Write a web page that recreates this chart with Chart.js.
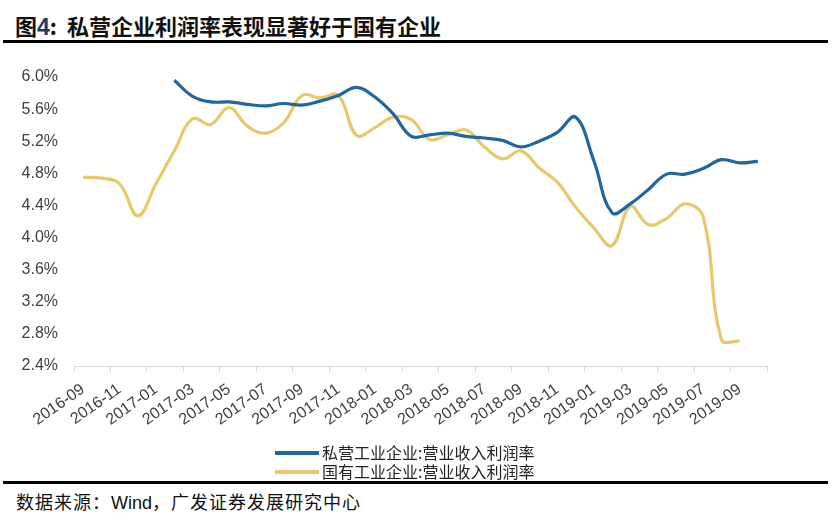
<!DOCTYPE html>
<html>
<head>
<meta charset="utf-8">
<script src="https://cdn.jsdelivr.net/npm/chart.js@4.4.0/dist/chart.umd.min.js"></script>
<style>
  body { margin: 0; background: #fff; width: 834px; height: 523px; position: relative; overflow: hidden; }
  #title { position: absolute; left: 15px; top: 10px; font: bold 22px "Noto Sans CJK SC", sans-serif; color: #111; white-space: nowrap; line-height: 30px; }
  #title .num { color: #1f3864; font-family: "Liberation Sans", Arial, sans-serif; font-size: 23px; }
  .rule { position: absolute; left: 3px; width: 825px; height: 3px; background: #000; }
  #source { position: absolute; left: 16px; top: 488px; font: 18px "Noto Sans CJK SC", sans-serif; color: #111; white-space: nowrap; line-height: 26px; letter-spacing: 1px; }
  #source .w { font-family: "Liberation Sans", Arial, sans-serif; letter-spacing: 0; }
  #wrap { position: absolute; left: 0; top: 50px; width: 834px; height: 430px; }
</style>
</head>
<body>
<div id="title">图<span class="num">4</span>:&nbsp; 私营企业利润率表现显著好于国有企业</div>
<div class="rule" style="top:40px"></div>
<div id="wrap"><canvas id="graf"></canvas></div>
<div class="rule" style="top:481px"></div>
<div id="source">数据来源：<span class="w">Wind</span>，广发证券发展研究中心</div>
<script>
// meses (categorias)
const meses = ['2016-09','2016-10','2016-11','2016-12','2017-01','2017-02','2017-03','2017-04','2017-05','2017-06',
    '2017-07','2017-08','2017-09','2017-10','2017-11','2017-12','2018-01','2018-02','2018-03','2018-04',
    '2018-05','2018-06','2018-07','2018-08','2018-09','2018-10','2018-11','2018-12','2019-01','2019-02',
    '2019-03','2019-04','2019-05','2019-06','2019-07','2019-08','2019-09','2019-10']

const privado = [null, null, null, null, null,
    5.96, 5.76, 5.69, 5.69, 5.66, 5.64, 5.67, 5.65, 5.70, 5.77, 5.87, 5.75, 5.54, 5.26, 5.28,
    5.30, 5.26, 5.24, 5.21, 5.13, 5.20, 5.31, 5.50, 4.96, 4.31, 4.42, 4.60, 4.79, 4.79, 4.86,
    4.97, 4.93, 4.95]

const estatal = [4.75, 4.74, 4.67, 4.27, 4.67, 5.08, 5.48, 5.41, 5.62, 5.39, 5.30, 5.43, 5.77, 5.74, 5.77,
    5.27, 5.37, 5.50, 5.47, 5.22, 5.28, 5.34, 5.13, 4.98, 5.08, 4.87, 4.69, 4.38, 4.12, 3.90,
    4.39, 4.16, 4.24, 4.42, 4.26, 2.73, 2.71, null]

const nomes = ['私营工业企业:营业收入利润率', '国有工业企业:营业收入利润率']
const cores = ['#20679f', '#e5c96c']

// legenda desenhada na mão (duas linhas, centralizada)
const legendaPlugin = {
    id: 'legendaVertical',
    afterDraw(chart) {
        const c = chart.ctx
        c.save()
        c.font = '16px "Noto Sans CJK SC", sans-serif'
        c.textBaseline = 'middle'
        chart.data.datasets.forEach((ds, i) => {
            const y = 403 + i * 19
            c.strokeStyle = ds.borderColor
            c.lineWidth = 4
            c.beginPath()
            c.moveTo(275, y)
            c.lineTo(319, y)
            c.stroke()
            c.fillStyle = '#222'
            c.fillText(ds.label, 322, y)
        })
        c.restore()
    }
}

const ctx = document.getElementById('graf').getContext('2d')
const chart = new Chart(ctx, {
    type: 'line',
    data: {
        labels: meses,
        datasets: [{
                label: nomes[0],
                data: privado,
                borderColor: cores[0],
                borderWidth: 3.2,
                pointRadius: 0,
                tension: 0.4,
                fill: false
            }, {
                label: nomes[1],
                data: estatal,
                borderColor: cores[1],
                borderWidth: 3.2,
                pointRadius: 0,
                tension: 0.4,
                fill: false
            }]
    },
    options: {
        responsive: true,
        maintainAspectRatio: false,
        animation: false,
        layout: { padding: { left: 0, right: 67, top: 27, bottom: 0 } },
        plugins: {
            legend: { display: false },
            tooltip: { enabled: false }
        },
        scales: {
            x: {
                type: 'category',
                offset: true,
                afterFit: (s) => { s.height = 114 },
                border: { display: true, color: '#d9d9d9', width: 1 },
                grid: {
                    display: true,
                    offset: true,
                    drawOnChartArea: false,
                    drawTicks: true,
                    tickLength: 6,
                    color: (c) => (c.index === undefined || c.index % 2 === 0) ? '#d9d9d9' : 'rgba(0,0,0,0)'
                },
                ticks: {
                    autoSkip: false,
                    maxRotation: 35,
                    minRotation: 35,
                    padding: 8,
                    color: '#404040',
                    font: { family: '"Liberation Sans", Arial, sans-serif', size: 16 },
                    callback: function (v, i) { return i % 2 === 0 ? this.getLabelForValue(v) : '' }
                }
            },
            y: {
                min: 2.4,
                max: 6.0,
                afterFit: (s) => { s.width = 74 },
                border: { display: false },
                grid: { display: false, drawTicks: false },
                ticks: {
                    stepSize: 0.4,
                    padding: 16,
                    color: '#404040',
                    font: { family: '"Liberation Sans", Arial, sans-serif', size: 16 },
                    callback: (v) => v.toFixed(1) + '%'
                }
            }
        }
    },
    plugins: [legendaPlugin]
})
</script>
</body>
</html>
